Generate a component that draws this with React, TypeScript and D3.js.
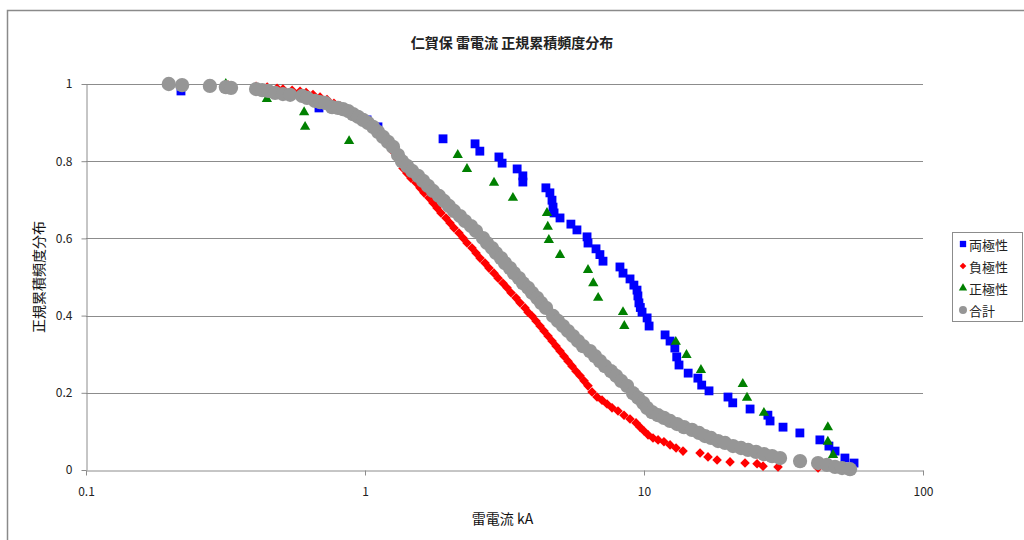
import * as d3 from 'd3'
import React, { useEffect, useRef } from 'react'

const chartTitle = '仁賀保 雷電流 正規累積頻度分布'
const xTitle = '雷電流 kA'
const yTitle = '正規累積頻度分布'
const seriesNames = ['両極性', '負極性', '正極性', '合計']
const seriesColors = ['#0000ff', '#ff0000', '#008000', '#969696']
const xTicks = [0.1, 1, 10, 100]
const yTicks = [0, 0.2, 0.4, 0.6, 0.8, 1]

// [current kA, cumulative frequency]
const bipolar = [
  [0.219, 0.982], [0.684, 0.938], [0.906, 0.922], [1.017, 0.907], [1.113, 0.889],
  [1.904, 0.858], [2.48, 0.845], [2.58, 0.826], [3.02, 0.811], [3.1, 0.795],
  [3.51, 0.78], [3.68, 0.762], [3.68, 0.746], [4.45, 0.731], [4.6, 0.718],
  [4.68, 0.699], [4.72, 0.681], [4.76, 0.666], [5.0, 0.653], [5.47, 0.637],
  [5.75, 0.622], [6.25, 0.604], [6.3, 0.588], [6.73, 0.573], [6.95, 0.558],
  [7.13, 0.541], [8.2, 0.526], [8.41, 0.51], [8.91, 0.495], [9.2, 0.479],
  [9.44, 0.466], [9.51, 0.451], [9.59, 0.433], [9.7, 0.421], [9.84, 0.409],
  [10.26, 0.394], [10.43, 0.373], [11.9, 0.35], [12.4, 0.334], [12.9, 0.316],
  [13.1, 0.293], [13.35, 0.272], [14.4, 0.251], [15.6, 0.238], [16.1, 0.22],
  [17.1, 0.205], [20.0, 0.189], [20.8, 0.174], [24.0, 0.158], [27.8, 0.142],
  [28.3, 0.127], [31.5, 0.111], [36.2, 0.096], [42.7, 0.078], [46.0, 0.062],
  [48.4, 0.049], [52.5, 0.031], [56.6, 0.018],
]

const negative = [
  [0.278, 0.998], [0.323, 0.997], [0.407, 0.994], [0.446, 0.992], [0.484, 0.989],
  [0.508, 0.987], [0.548, 0.984], [0.585, 0.981], [0.615, 0.978], [0.651, 0.973],
  [0.69, 0.966], [0.731, 0.96], [0.774, 0.95], [0.814, 0.943], [0.855, 0.935],
  [0.899, 0.927], [0.937, 0.919], [0.976, 0.912], [1.017, 0.902], [1.059, 0.889],
  [1.104, 0.876], [1.151, 0.861], [1.199, 0.845], [1.25, 0.828], [1.302, 0.808],
  [1.346, 0.793], [1.368, 0.782], [1.414, 0.769], [1.462, 0.756], [1.524, 0.744],
  [1.575, 0.731], [1.628, 0.718], [1.696, 0.705], [1.753, 0.692], [1.812, 0.679],
  [1.872, 0.666], [1.951, 0.653], [2.017, 0.64], [2.085, 0.627], [2.172, 0.614],
  [2.246, 0.601], [2.321, 0.588], [2.419, 0.575], [2.5, 0.562], [2.584, 0.549],
  [2.693, 0.536], [2.783, 0.523], [2.9, 0.51], [3.0, 0.497], [3.124, 0.484],
  [3.229, 0.472], [3.337, 0.459], [3.478, 0.446], [3.595, 0.433], [3.746, 0.42],
  [3.84, 0.409], [3.969, 0.399], [4.102, 0.386], [4.24, 0.373], [4.382, 0.36],
  [4.529, 0.347], [4.682, 0.334], [4.839, 0.321], [5.001, 0.308], [5.169, 0.295],
  [5.342, 0.282], [5.522, 0.269], [5.707, 0.256], [5.898, 0.244], [6.096, 0.231],
  [6.3, 0.218], [6.513, 0.202], [6.787, 0.189], [7.073, 0.181], [7.371, 0.171],
  [7.681, 0.161], [8.07, 0.153], [8.481, 0.142], [8.911, 0.132], [9.364, 0.122],
  [9.678, 0.111], [10.0, 0.101], [10.34, 0.091], [10.77, 0.083], [11.23, 0.078],
  [11.79, 0.073], [12.4, 0.065], [13.03, 0.057], [13.8, 0.049], [15.88, 0.044],
  [16.96, 0.034], [18.28, 0.026], [20.34, 0.021], [23.02, 0.018], [25.42, 0.016],
  [26.71, 0.01], [30.23, 0.008], [42.06, 0.005],
]

const positive = [
  [0.317, 1.0], [0.445, 0.961], [0.605, 0.927], [0.61, 0.889], [0.877, 0.852],
  [2.15, 0.816], [2.32, 0.78], [2.9, 0.744], [3.39, 0.705], [4.49, 0.666],
  [4.52, 0.63], [4.56, 0.596], [5.0, 0.557], [6.3, 0.518], [6.58, 0.484],
  [6.85, 0.446], [8.41, 0.409], [8.5, 0.373], [13.0, 0.332], [14.2, 0.298],
  [16.0, 0.259], [22.6, 0.223], [23.4, 0.187], [26.9, 0.148], [45.6, 0.111],
  [45.6, 0.073], [47.6, 0.039],
]

const total = [
  [0.198, 1.0], [0.221, 0.997], [0.278, 0.995], [0.317, 0.992], [0.331, 0.99],
  [0.407, 0.987], [0.428, 0.984], [0.45, 0.982], [0.476, 0.977], [0.508, 0.974],
  [0.539, 0.972], [0.595, 0.969], [0.62, 0.964], [0.662, 0.956], [0.69, 0.953],
  [0.719, 0.951], [0.762, 0.94], [0.8, 0.938], [0.834, 0.935], [0.87, 0.93],
  [0.906, 0.922], [0.944, 0.915], [0.984, 0.907], [1.025, 0.899], [1.068, 0.889],
  [1.113, 0.876], [1.16, 0.863], [1.209, 0.85], [1.26, 0.837], [1.313, 0.816],
  [1.357, 0.8], [1.414, 0.788], [1.474, 0.775], [1.549, 0.762], [1.615, 0.749],
  [1.682, 0.736], [1.753, 0.723], [1.842, 0.71], [1.919, 0.697], [2.0, 0.684],
  [2.085, 0.671], [2.191, 0.658], [2.283, 0.645], [2.399, 0.632], [2.5, 0.619],
  [2.649, 0.601], [2.738, 0.588], [2.853, 0.575], [2.949, 0.562], [3.073, 0.549],
  [3.176, 0.536], [3.31, 0.523], [3.421, 0.51], [3.565, 0.497], [3.685, 0.484],
  [3.84, 0.472], [3.969, 0.459], [4.136, 0.446], [4.275, 0.433], [4.455, 0.42],
  [4.721, 0.399], [4.919, 0.386], [5.127, 0.373], [5.342, 0.36], [5.567, 0.347],
  [5.801, 0.334], [6.046, 0.321], [6.406, 0.308], [6.676, 0.295], [6.957, 0.282],
  [7.25, 0.269], [7.618, 0.256], [7.939, 0.244], [8.273, 0.231], [8.693, 0.218],
  [9.135, 0.199], [9.519, 0.187], [9.921, 0.174], [10.25, 0.161], [10.69, 0.15],
  [11.23, 0.142], [11.79, 0.135], [12.4, 0.127], [13.14, 0.119], [13.91, 0.111],
  [14.86, 0.104], [15.75, 0.096], [16.55, 0.088], [17.39, 0.083], [18.43, 0.075],
  [19.52, 0.07], [20.85, 0.062], [22.27, 0.057], [23.6, 0.052], [25.21, 0.047],
  [26.94, 0.041], [28.77, 0.036], [30.73, 0.031], [36.25, 0.023], [42.06, 0.018],
  [45.29, 0.013], [48.38, 0.008], [51.27, 0.005], [54.76, 0.002],
]

const FONT = '"Noto Sans CJK JP", "Noto Sans", sans-serif'

export default function App() {
  const ref = useRef<SVGSVGElement>(null)

  useEffect(() => {
    const width = 1024
    const height = 540
    const left = 86
    const right = 923
    const top = 84
    const bottom = 470

    const svg = d3.select(ref.current)
    svg.selectAll('*').remove()

    svg.append('rect')
      .attr('width', width).attr('height', height)
      .attr('fill', '#ffffff')

    // chart frame (runs off the right and bottom edges)
    svg.append('rect')
      .attr('x', 7.5).attr('y', 10.5)
      .attr('width', 1040).attr('height', 560)
      .attr('fill', '#ffffff')
      .attr('stroke', '#8a8a8a')
      .attr('stroke-width', 1.5)

    const x = d3.scaleLog().domain([0.1, 100]).range([left, right])
    const y = d3.scaleLinear().domain([0, 1]).range([bottom, top])

    // gridlines
    svg.append('g')
      .selectAll('line')
      .data(yTicks.filter(d => d > 0))
      .enter().append('line')
      .attr('x1', left).attr('x2', right)
      .attr('y1', d => Math.round(y(d)) + 0.5)
      .attr('y2', d => Math.round(y(d)) + 0.5)
      .attr('stroke', '#8c8c8c')
      .attr('stroke-width', 1)

    const xAxis = svg.append('g')
      .attr('transform', `translate(0,${bottom + 0.5})`)
      .call(d3.axisBottom(x).tickValues(xTicks).tickFormat(d3.format('~g')).tickSize(5).tickSizeOuter(0).tickPadding(12))
    const yAxis = svg.append('g')
      .attr('transform', `translate(${left + 0.5},0)`)
      .call(d3.axisLeft(y).tickValues(yTicks).tickFormat(d3.format('~g')).tickSize(5).tickSizeOuter(0).tickPadding(9))

    for (const ax of [xAxis, yAxis]) {
      ax.select('.domain').attr('stroke', '#8c8c8c')
      ax.selectAll('.tick line').attr('stroke', '#8c8c8c')
      ax.selectAll('.tick text')
        .attr('fill', '#222')
        .style('font-family', FONT)
        .style('font-size', '12px')
    }

    const shapes = [d3.symbolSquare, d3.symbolSquare, d3.symbolTriangle, d3.symbolCircle]
    const sizes = [78, 46, 46, 160]
    const rotations = [0, 45, 0, 0]
    const allSeries = [bipolar, negative, positive, total]

    allSeries.forEach((data, i) => {
      const sym = d3.symbol().type(shapes[i]).size(sizes[i])
      svg.append('g')
        .selectAll('path')
        .data(data)
        .enter().append('path')
        .attr('d', sym)
        .attr('fill', seriesColors[i])
        .attr('transform', d => `translate(${x(d[0])},${y(d[1])}) rotate(${rotations[i]})`)
    })

    // titles
    svg.append('text')
      .attr('x', 512).attr('y', 42)
      .attr('text-anchor', 'middle')
      .attr('dominant-baseline', 'central')
      .style('font-family', FONT)
      .style('font-size', '14px')
      .style('font-weight', 'bold')
      .attr('fill', '#222')
      .text(chartTitle)

    svg.append('text')
      .attr('x', (left + right) / 2 - 2).attr('y', 518)
      .attr('text-anchor', 'middle')
      .attr('dominant-baseline', 'central')
      .style('font-family', FONT)
      .style('font-size', '14px')
      .attr('fill', '#111')
      .text(xTitle)

    svg.append('text')
      .attr('transform', `translate(38,${(top + bottom) / 2}) rotate(-90)`)
      .attr('text-anchor', 'middle')
      .attr('dominant-baseline', 'central')
      .style('font-family', FONT)
      .style('font-size', '14px')
      .attr('fill', '#111')
      .text(yTitle)

    // legend
    const legend = svg.append('g')
    legend.append('rect')
      .attr('x', 952.5).attr('y', 232.5)
      .attr('width', 70).attr('height', 89)
      .attr('fill', '#ffffff')
      .attr('stroke', '#8c8c8c')

    const legendSizes = [40, 22, 30, 50]
    seriesNames.forEach((name, i) => {
      const ly = 244 + i * 22
      legend.append('path')
        .attr('d', d3.symbol().type(shapes[i]).size(legendSizes[i]))
        .attr('fill', seriesColors[i])
        .attr('transform', `translate(963,${ly}) rotate(${rotations[i]})`)
      legend.append('text')
        .attr('x', 969).attr('y', ly)
        .attr('dominant-baseline', 'central')
        .style('font-family', FONT)
        .style('font-size', '13px')
        .attr('fill', '#222')
        .text(name)
    })
  }, [])

  return (
    <svg
      ref={ref}
      width={1024}
      height={540}
      style={{ position: 'absolute', left: 0, top: 0, display: 'block' }}
    />
  )
}
